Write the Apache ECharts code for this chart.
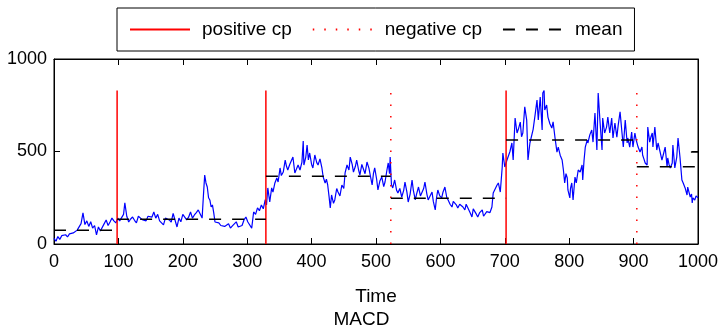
<!DOCTYPE html>
<html>
<head>
<meta charset="utf-8">
<script src="https://cdn.jsdelivr.net/npm/echarts@6/dist/echarts.min.js"></script>
<style>html,body{margin:0;padding:0;background:#fff}#c{width:723px;height:331px}</style>
</head>
<body>
<div id="c"></div>
<script>
// ---- data ----
const timeSteps = [0,3,6,9,12,15,18,21,24,27,30,33,36,39,42,45,48,51,54,57,60,63,66,69,72,75,78,81,84,87,90,93,96,
99,102,105,108,110,113,116,119,122,125,128,131,134,137,140,143,146,149,152,155,158,161,164,167,170,173,176,179,182,185,188,191,194,197,200,203,206,209,212,215,218,221,224,227,230,232,234,236,238,240,242,244,246,248,250,253,256,259,262,265,268,271,274,277,280,283,286,289,292,295,298,301,304,307,310,313,316,319,322,325,328,
330,332,335,338,340,343,346,348,351,353,356,359,361,363,366,369,371,374,377,379,382,385,387,388,391,393,395,397,400,402,405,408,410,413,416,418,421,423,425,427,429,431,434,436,439,441,444,447,450,452,455,458,460,463,465,468,470,473,475,478,480,483,486,489,491,494,496,498,501,503,506,509,512,514,517,519,521,522,
524,526,529,532,534,537,540,543,545,548,550,553,556,558,561,563,566,569,571,574,576,579,581,584,587,589,592,594,596,599,602,604,607,610,612,615,618,620,622,625,627,630,633,635,638,640,643,646,649,651,654,656,658,661,665,667,669,672,674,677,680,682,685,688,690,693,696,697,700,
703,705,708,711,713,716,719,721,724,726,728,731,734,736,739,742,744,747,750,752,755,758,759,761,762,765,767,770,773,775,778,781,783,786,789,791,793,795,797,798,801,802,804,806,809,811,814,817,820,821,823,825,828,829,832,835,837,840,843,845,848,851,852,855,858,860,863,866,868,871,874,876,879,882,884,887,890,891,894,897,899,902,904,
907,910,913,914,916,918,921,922,925,927,929,930,933,936,938,941,944,946,949,952,953,955,957,960,961,964,967,969,972,975,977,980,983,984,986,988,990,991,992,995,997,1000];
const values = [30,15,40,25,45,35,50,38,55,45,60,52,75,65,110,168,105,125,95,120,86,100,49,92,70,76,110,130,100,119,140,125,114,
140,125,130,160,222,150,119,135,146,128,114,150,157,132,140,125,150,157,145,173,140,160,125,130,103,140,150,130,118,165,168,92,140,120,160,157,130,145,173,140,157,170,184,175,140,260,373,330,308,250,238,200,211,170,119,125,114,100,103,95,92,110,86,98,103,120,92,100,100,130,146,119,125,86,173,160,195,180,211,190,240,
211,303,227,303,281,330,357,335,411,370,389,454,420,400,430,438,470,384,410,427,400,443,557,427,470,535,454,492,430,411,481,440,427,460,411,362,330,350,319,260,195,265,220,238,300,281,260,319,300,384,427,400,470,430,389,420,454,400,373,430,427,380,443,410,373,319,380,411,350,292,340,362,310,335,400,438,380,470,
320,303,346,290,276,300,254,290,335,280,227,270,346,290,238,270,308,260,254,300,335,270,238,260,281,230,184,250,292,260,249,280,308,250,238,215,200,230,238,210,195,215,222,200,184,215,211,170,146,190,195,160,146,170,184,150,157,175,184,170,200,276,281,319,330,281,416,492,416,
450,454,500,546,454,681,600,620,659,580,600,741,670,454,546,551,620,697,778,670,795,616,816,830,724,751,686,650,627,660,573,497,524,480,454,400,330,380,357,292,249,300,330,238,362,330,400,389,427,346,450,524,562,546,590,616,551,708,508,816,654,508,681,600,632,686,600,681,573,654,578,640,714,600,524,670,546,573,524,605,524,600,562,
524,497,524,481,460,438,427,632,551,580,600,524,632,508,546,500,454,481,524,416,465,430,411,438,535,411,470,573,470,346,330,303,265,308,280,254,270,222,249,238,260,249];

const positiveCp = [98, 329, 702];
const negativeCp = [523, 905];
const cpTop = 830;

const meanStart = [0, 98, 329, 523, 702, 905, 989];
const meanEnd   = [98, 329, 523, 702, 905, 1000, 1000];
const meanValue = [75, 134, 366, 247, 562, 418, 497];

const xTicks = [0,100,200,300,400,500,600,700,800,900,1000];
const yTicks = [0,500,1000];

// ---- build chart ----
const FONT = 'Liberation Sans, Arial, sans-serif';
const series = [];
series.push({
  type: 'line', name: 'signal', data: timeSteps.map((t, i) => [t, values[i]]),
  symbol: 'none', lineStyle: { color: '#0000ff', width: 1.2 }, itemStyle: { color: '#0000ff' },
  z: 3, animation: false
});
positiveCp.forEach(x => series.push({
  type: 'line', name: 'positive cp', data: [[x, 0], [x, cpTop]], symbol: 'none',
  lineStyle: { color: '#ff0000', width: 1.5, type: 'solid' }, itemStyle: { color: '#ff0000' }, z: 4, animation: false
}));
negativeCp.forEach(x => series.push({
  type: 'line', name: 'negative cp', data: [[x, 0], [x, cpTop]], symbol: 'none',
  lineStyle: { color: '#ff0000', width: 1.5, type: [1.5, 10] }, itemStyle: { color: '#ff0000' }, z: 4, animation: false
}));
meanStart.forEach((s, i) => series.push({
  type: 'line', name: 'mean', data: [[s, meanValue[i]], [meanEnd[i], meanValue[i]]], symbol: 'none',
  lineStyle: { color: '#000', width: 1.5, type: [12, 11] }, itemStyle: { color: '#000' }, z: 5, animation: false
}));
// anchor series so the top and right frame axes are drawn
series.push({
  type: 'line', name: 'frame', xAxisIndex: 1, yAxisIndex: 1, data: [], symbol: 'none',
  silent: true, animation: false
});

const tickCommon = { show: true, inside: true, length: 6, lineStyle: { color: '#000', width: 1 } };
const lineCommon = { show: true, onZero: false, lineStyle: { color: '#000', width: 1 } };
const fmt = v => String(v);

const chart = echarts.init(document.getElementById('c'), null, { renderer: 'canvas' });
chart.setOption({
  backgroundColor: '#fff',
  animation: false,
  textStyle: { fontFamily: FONT },
  title: {
    text: 'MACD', left: 'center', top: 305,
    textStyle: { fontSize: 19, fontWeight: 'normal', color: '#000', fontFamily: FONT }
  },
  legend: {
    data: ['positive cp', 'negative cp', 'mean'],
    left: 117, top: 8,
    padding: [12, 12, 12, 12],
    borderColor: '#000', borderWidth: 1,
    itemWidth: 60, itemHeight: 14, itemGap: 20,
    itemStyle: { opacity: 0 },
    textStyle: { fontSize: 19, color: '#000', fontFamily: FONT, padding: [0, 0, 0, 7] },
    selectedMode: false
  },
  grid: { left: 54, right: 25, top: 59, bottom: 87, containLabel: false,
    show: true, borderColor: '#000', borderWidth: 1, backgroundColor: 'transparent' },
  xAxis: [{
    type: 'value', min: 0, max: 1000, interval: 100, position: 'bottom',
    axisLine: lineCommon,
    axisTick: tickCommon,
    axisLabel: { fontSize: 18, color: '#000', margin: 9, fontFamily: FONT, formatter: fmt },
    splitLine: { show: false },
    name: 'Time', nameLocation: 'middle', nameGap: 43,
    nameTextStyle: { fontSize: 19, color: '#000', fontFamily: FONT }
  }, {
    type: 'value', min: 0, max: 1000, interval: 100, position: 'top',
    axisLine: lineCommon,
    axisTick: tickCommon,
    axisLabel: { show: false }, splitLine: { show: false }
  }],
  yAxis: [{
    type: 'value', min: 0, max: 1000, interval: 500, position: 'left',
    axisLine: lineCommon,
    axisTick: tickCommon,
    axisLabel: { fontSize: 18, color: '#000', margin: 7, fontFamily: FONT, formatter: fmt },
    splitLine: { show: false }
  }, {
    type: 'value', min: 0, max: 1000, interval: 500, position: 'right',
    axisLine: lineCommon,
    axisTick: tickCommon,
    axisLabel: { show: false }, splitLine: { show: false }
  }],
  series: series
});
</script>
</body>
</html>
